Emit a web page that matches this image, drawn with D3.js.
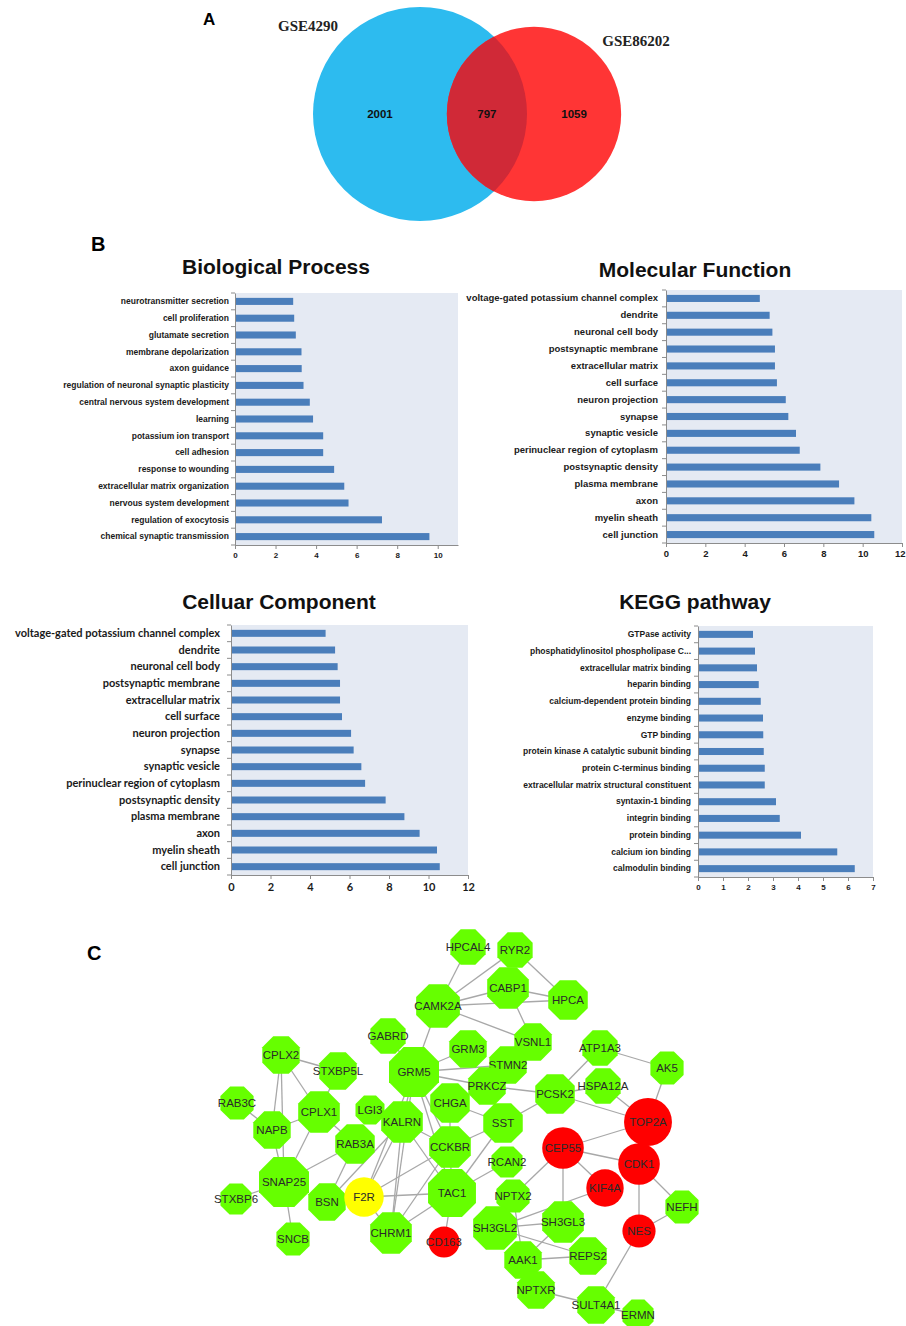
<!DOCTYPE html>
<html>
<head>
<meta charset="utf-8">
<script src="https://cdn.jsdelivr.net/npm/d3@7"></script>
<style>
  body { margin: 0; background: #fff; }
  text { font-family: "Liberation Sans", Arial, sans-serif; }
</style>
</head>
<body>
<script>
// ---- data ----
// Venn (A)
var vennSets = ["GSE4290", "GSE86202"];
var vennCounts = [2001, 797, 1059];   // only first, both, only second

// GO / KEGG bars (B), listed top to bottom
var bpTerms = ["neurotransmitter secretion", "cell proliferation", "glutamate secretion",
  "membrane depolarization", "axon guidance", "regulation of neuronal synaptic plasticity",
  "central nervous system development", "learning", "potassium ion transport", "cell adhesion",
  "response to wounding", "extracellular matrix organization", "nervous system development",
  "regulation of exocytosis", "chemical synaptic transmission"];
var bpValues = [2.87, 2.92, 3.0, 3.28, 3.29, 3.38, 3.69, 3.85, 4.35, 4.35, 4.89, 5.39, 5.6, 7.25, 9.59];

var mfTerms = ["voltage-gated potassium channel complex", "dendrite", "neuronal cell body",
  "postsynaptic membrane", "extracellular matrix", "cell surface", "neuron projection", "synapse",
  "synaptic vesicle", "perinuclear region of cytoplasm", "postsynaptic density", "plasma membrane",
  "axon", "myelin sheath", "cell junction"];
var mfValues = [4.77, 5.27, 5.41, 5.54, 5.54, 5.64, 6.09, 6.22, 6.61, 6.8, 7.85, 8.8, 9.58, 10.44, 10.59];

var ccTerms = mfTerms.slice();
var ccValues = [4.79, 5.27, 5.4, 5.52, 5.52, 5.62, 6.08, 6.21, 6.6, 6.79, 7.83, 8.78, 9.55, 10.43, 10.57];

var keggTerms = ["GTPase activity", "phosphatidylinositol phospholipase C...", "extracellular matrix binding",
  "heparin binding", "calcium-dependent protein binding", "enzyme binding", "GTP binding",
  "protein kinase A catalytic subunit binding", "protein C-terminus binding",
  "extracellular matrix structural constituent", "syntaxin-1 binding", "integrin binding",
  "protein binding", "calcium ion binding", "calmodulin binding"];
var keggValues = [2.2, 2.28, 2.36, 2.43, 2.51, 2.6, 2.61, 2.63, 2.67, 2.67, 3.12, 3.27, 4.12, 5.57, 6.27];

// PPI network (C)
var nodeNames = ["HPCAL4","RYR2","CABP1","HPCA","CAMK2A","VSNL1","GABRD","GRM3","STMN2","GRM5",
  "CPLX2","STXBP5L","ATP1A3","AK5","HSPA12A","PRKCZ","PCSK2","RAB3C","CPLX1","LGI3",
  "KALRN","CHGA","SST","TOP2A","NAPB","RAB3A","CCKBR","CEP55","CDK1","RCAN2",
  "SNAP25","STXBP6","BSN","F2R","TAC1","KIF4A","NPTX2","NEFH","SH3GL2","SH3GL3",
  "NES","CHRM1","CD163","SNCB","REPS2","AAK1","NPTXR","SULT4A1","ERMN"];
// layout position (network units)
var nodeX = [268,315,308,368,238,333,188,268,308,214, 81,138,400,467,403,287,355, 37,119,170,
  202,250,303,448, 72,155,250,363,439,307, 84, 36,127,164,252,405,313,482,295,363,
  439,191,244, 93,388,323,336,396,438];
var nodeY = [ 27, 30, 68, 80, 86,122,116,129,145,152,135,151,128,148,166,166,174,183,192,190,
  202,183,203,202,210,224,227,228,244,242,262,279,282,277,273,268,276,287,308,302,
  311,313,322,319,336,340,370,385,395];
var nodeDegree = [3,3,6,5,7,4,3,4,4,10, 4,4,3,2,3,4,5,2,6,0,
  6,5,5,9,4,5,6,6,6,1, 10,1,4,5,9,4,2,2,7,6,
  2,6,1,2,4,4,4,4,1];
var nodeGroup = ["down","down","down","down","down","down","down","down","down","down",
  "down","down","down","down","down","down","down","down","down","down",
  "down","down","down","up","down","down","down","up","up","down",
  "down","down","down","seed","down","up","down","down","down","down",
  "up","down","up","down","down","down","down","down","down"];
var edges = [
  ["HPCAL4","CAMK2A"],["RYR2","CAMK2A"],["RYR2","HPCA"],["CAMK2A","CABP1"],["CAMK2A","HPCA"],
  ["CABP1","HPCA"],["CABP1","VSNL1"],["CAMK2A","VSNL1"],["CAMK2A","GRM5"],["GABRD","GRM5"],
  ["GRM5","GRM3"],["GRM5","PRKCZ"],["GRM5","STMN2"],["GRM5","KALRN"],["GRM5","CHRM1"],
  ["GRM5","F2R"],["GRM5","CCKBR"],["GRM5","TAC1"],["PRKCZ","PCSK2"],["CHGA","SST"],
  ["CHGA","CCKBR"],["SST","PCSK2"],["SST","CCKBR"],["SST","TAC1"],["CCKBR","TAC1"],
  ["TAC1","RCAN2"],["TAC1","CD163"],["TAC1","F2R"],["TAC1","CHRM1"],["TAC1","KALRN"],
  ["CCKBR","KALRN"],["CCKBR","F2R"],["CCKBR","CHRM1"],["KALRN","F2R"],["KALRN","CHRM1"],
  ["KALRN","BSN"],["F2R","CHRM1"],["RAB3A","BSN"],["RAB3A","SNAP25"],["RAB3A","CPLX1"],
  ["CPLX2","STXBP5L"],["CPLX2","CPLX1"],["CPLX2","NAPB"],["CPLX2","SNAP25"],["STXBP5L","CPLX1"],
  ["RAB3C","NAPB"],["NAPB","CPLX1"],["NAPB","SNAP25"],["CPLX1","SNAP25"],["SNAP25","STXBP6"],
  ["SNAP25","SNCB"],["PCSK2","ATP1A3"],["PCSK2","HSPA12A"],["PCSK2","TOP2A"],["ATP1A3","AK5"],
  ["AK5","TOP2A"],["HSPA12A","TOP2A"],["TOP2A","CEP55"],["TOP2A","CDK1"],["CEP55","CDK1"],
  ["CEP55","KIF4A"],["CEP55","SH3GL3"],["CEP55","NPTX2"],["KIF4A","SH3GL2"],["CDK1","NES"],
  ["CDK1","NEFH"],["NES","NEFH"],["NES","SULT4A1"],["SH3GL2","SH3GL3"],["SH3GL2","REPS2"],
  ["SH3GL3","AAK1"],["AAK1","REPS2"],["NPTX2","AAK1"],["NPTXR","SULT4A1"],["SULT4A1","ERMN"]
];

// ---- svg ----
var W = 906, H = 1326;
var svg = d3.select("body").append("svg")
    .attr("width", W)
    .attr("height", H);

// panel letters
svg.append("text").attr("x", 203).attr("y", 25).text("A")
    .style("font-size", "17px").style("font-weight", "bold");
svg.append("text").attr("x", 91).attr("y", 251).text("B")
    .style("font-size", "20px").style("font-weight", "bold");
svg.append("text").attr("x", 87).attr("y", 960).text("C")
    .style("font-size", "20px").style("font-weight", "bold");

// ---- A: venn ----
var r = d3.scaleSqrt().domain([0, vennCounts[0] + vennCounts[1]]).range([0, 107]);
var r1 = r(vennCounts[0] + vennCounts[1]),
    r2 = r(vennCounts[1] + vennCounts[2]);
var vx = d3.scaleLinear().domain([0, 1]).range([420, 534]);
var vy = 114;

var defs = svg.append("defs");
defs.append("clipPath").attr("id", "clipBlue")
  .append("circle").attr("cx", vx(0)).attr("cy", vy).attr("r", r1);

svg.append("circle").attr("cx", vx(0)).attr("cy", vy).attr("r", r1).attr("fill", "#2DBBEF");
svg.append("circle").attr("cx", vx(1)).attr("cy", vy).attr("r", r2).attr("fill", "#FF3535");
svg.append("circle").attr("cx", vx(1)).attr("cy", vy).attr("r", r2).attr("fill", "#D02937")
    .attr("clip-path", "url(#clipBlue)");

var vennLabelX = [
  ((vx(0) - r1) + (vx(1) - r2)) / 2,
  ((vx(1) - r2) + (vx(0) + r1)) / 2,
  ((vx(0) + r1) + (vx(1) + r2)) / 2
];
svg.selectAll(".vnum").data(vennCounts).enter().append("text")
    .attr("class", "vnum")
    .attr("x", function(d, i) { return vennLabelX[i]; })
    .attr("y", vy + 4)
    .attr("text-anchor", "middle")
    .style("font-size", "11.5px").style("font-weight", "bold").style("fill", "#111")
    .text(function(d) { return d; });

svg.append("text").attr("x", 308).attr("y", 31).attr("text-anchor", "middle")
    .style("font-family", "'Liberation Serif', serif").style("font-weight", "bold")
    .style("font-size", "15px").style("fill", "#222").text(vennSets[0]);
svg.append("text").attr("x", 636).attr("y", 46).attr("text-anchor", "middle")
    .style("font-family", "'Liberation Serif', serif").style("font-weight", "bold")
    .style("font-size", "15px").style("fill", "#222").text(vennSets[1]);

// ---- B: bar panels ----
var barPanel = function(cfg) {
  var g = svg.append("g");
  var x = d3.scaleLinear().domain([0, cfg.max]).range([cfg.left, cfg.right]);
  var y = d3.scaleBand().domain(cfg.terms).range([cfg.top, cfg.bottom])
      .paddingInner(0.58).paddingOuter(0.29);

  g.append("rect")
      .attr("x", cfg.left).attr("y", cfg.top)
      .attr("width", cfg.right - cfg.left).attr("height", cfg.bottom - cfg.top)
      .attr("fill", "#E5EAF3");

  g.selectAll(".bar").data(cfg.values).enter().append("rect")
      .attr("class", "bar")
      .attr("x", x(0))
      .attr("y", function(d, i) { return y(cfg.terms[i]); })
      .attr("width", function(d) { return x(d) - x(0); })
      .attr("height", y.bandwidth())
      .attr("fill", "#4A7EBB");

  // category axis (labels) + boundary ticks like excel
  var ya = g.append("g").attr("transform", "translate(" + x(0) + ",0)")
      .call(d3.axisLeft(y).tickSize(0).tickPadding(x(0) - cfg.labelRight));
  ya.select(".domain").attr("stroke", "#8c8c8c");
  ya.selectAll("text")
      .style("font-family", cfg.font).style("font-size", cfg.labelSize + "px")
      .style("font-weight", "bold").style("fill", "#1a1a1a");
  g.selectAll(".ctick").data(d3.range(cfg.terms.length + 1)).enter().append("line")
      .attr("class", "ctick")
      .attr("x1", x(0) - 4).attr("x2", x(0))
      .attr("y1", function(i) { return cfg.top + i * y.step(); })
      .attr("y2", function(i) { return cfg.top + i * y.step(); })
      .attr("stroke", "#8c8c8c");

  var xa = g.append("g").attr("transform", "translate(0," + cfg.bottom + ")")
      .call(d3.axisBottom(x).tickValues(cfg.ticks).tickSize(4).tickSizeOuter(0)
        .tickPadding(cfg.tickPad).tickFormat(d3.format("d")));
  xa.selectAll("line, .domain").attr("stroke", "#8c8c8c");
  xa.selectAll("text")
      .style("font-family", cfg.font).style("font-size", cfg.tickSize + "px")
      .style("font-weight", "bold").style("fill", "#1a1a1a");
  // keep a last tick label inside the page edge
  if (cfg.lastTickEnd) {
    xa.selectAll(".tick").filter(function(d) { return d == cfg.max; }).select("text")
        .attr("text-anchor", "end").attr("x", W - 1 - x(cfg.max));
  }

  g.append("text")
      .attr("x", cfg.titleX).attr("y", cfg.titleY)
      .attr("text-anchor", "middle")
      .style("font-size", "21px").style("font-weight", "bold").style("fill", "#111")
      .text(cfg.title);
};

var arialFont = "'Liberation Sans', Arial, sans-serif";

barPanel({title: "Biological Process", terms: bpTerms, values: bpValues,
  left: 235, right: 458, top: 293, bottom: 545, max: 11, ticks: [0, 2, 4, 6, 8, 10],
  labelRight: 229, labelSize: 8.5, tickSize: 8, tickPad: 3, font: arialFont,
  titleX: 276, titleY: 274});

barPanel({title: "Molecular Function", terms: mfTerms, values: mfValues,
  left: 666, right: 902, top: 290, bottom: 543, max: 12, ticks: [0, 2, 4, 6, 8, 10, 12],
  labelRight: 658, labelSize: 9.5, tickSize: 9.5, tickPad: 3, font: arialFont,
  titleX: 695, titleY: 277, lastTickEnd: true});

barPanel({title: "Celluar Component", terms: ccTerms, values: ccValues,
  left: 231, right: 468, top: 625, bottom: 875, max: 12, ticks: [0, 2, 4, 6, 8, 10, 12],
  labelRight: 220, labelSize: 11, tickSize: 11, tickPad: 4, font: "Lato, sans-serif",
  titleX: 279, titleY: 609});

barPanel({title: "KEGG pathway", terms: keggTerms, values: keggValues,
  left: 698, right: 873, top: 626, bottom: 877, max: 7, ticks: [0, 1, 2, 3, 4, 5, 6, 7],
  labelRight: 691, labelSize: 8.5, tickSize: 8, tickPad: 3, font: arialFont,
  titleX: 695, titleY: 609});

// ---- C: network ----
var nx = d3.scaleLinear().domain([0, 500]).range([200, 700]);
var ny = d3.scaleLinear().domain([0, 400]).range([920, 1320]);
var size = d3.scaleLinear().domain([0, 10]).range([14.5, 25]);
var color = d3.scaleOrdinal().domain(["down", "up", "seed"]).range(["#66FF00", "#FF0000", "#FFFF00"]);

var nodes = nodeNames.map(function(n, i) {
  return {id: n, x: nx(nodeX[i]), y: ny(nodeY[i]), deg: nodeDegree[i], group: nodeGroup[i]};
});
var byId = {};
nodes.forEach(function(d) { byId[d.id] = d; });

svg.append("g").selectAll("line").data(edges).enter().append("line")
    .attr("x1", function(d) { return byId[d[0]].x; })
    .attr("y1", function(d) { return byId[d[0]].y; })
    .attr("x2", function(d) { return byId[d[1]].x; })
    .attr("y2", function(d) { return byId[d[1]].y; })
    .attr("stroke", "#a8a8a8")
    .attr("stroke-width", 1.3);

// octagon with flat top/bottom, a = apothem
var octagon = function(a) {
  var R = a / Math.cos(Math.PI / 8);
  var pts = d3.range(8).map(function(k) {
    var t = Math.PI / 8 + k * Math.PI / 4;
    return [R * Math.cos(t), R * Math.sin(t)];
  });
  return "M" + pts.join("L") + "Z";
};

var ng = svg.append("g").selectAll("g").data(nodes).enter().append("g")
    .attr("transform", function(d) { return "translate(" + d.x + "," + d.y + ")"; });

ng.filter(function(d) { return d.group == "down"; }).append("path")
    .attr("d", function(d) { return octagon(size(d.deg)); })
    .attr("fill", function(d) { return color(d.group); });

ng.filter(function(d) { return d.group != "down"; }).append("circle")
    .attr("r", function(d) { return size(d.deg); })
    .attr("fill", function(d) { return color(d.group); });

ng.append("text")
    .attr("text-anchor", "middle")
    .attr("dy", "0.36em")
    .style("font-size", "11.5px")
    .style("fill", "#2a2a2a")
    .text(function(d) { return d.id; });
</script>
</body>
</html>
